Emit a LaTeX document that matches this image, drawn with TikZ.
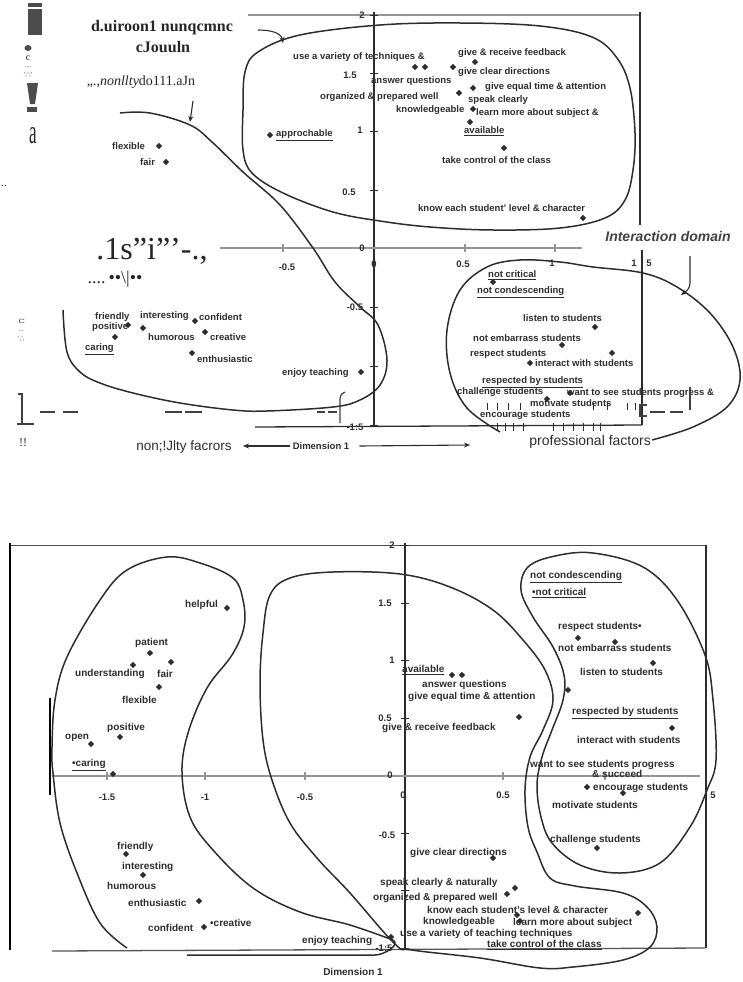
\documentclass[tikz,border=0pt]{standalone}
\usepackage{fontspec}
\setmainfont{Liberation Serif}
\setsansfont{Liberation Sans}
\usetikzlibrary{shapes.geometric,arrows.meta}
\definecolor{ink}{RGB}{45,45,45}
\definecolor{faint}{RGB}{150,150,150}
\newcommand{\lab}{\fontsize{9.5}{10}\selectfont\sffamily\bfseries}
\newcommand{\labb}{\fontsize{10}{11}\selectfont\sffamily\bfseries}

\begin{document}
\begin{tikzpicture}[x=1pt,y=-1pt,
        pnt/.style={diamond, fill=ink, inner sep=0pt, minimum size=6.5pt},
        word/.style={font=\lab, text=ink, inner sep=0pt, anchor=west},
        wordb/.style={word, font=\labb},
        num/.style={font=\lab, text=ink, inner sep=0pt},
        region/.style={draw=ink, line width=1.5pt},
        axis/.style={draw=ink, line width=1.3pt},
        faintaxis/.style={draw=faint, line width=1.1pt},
        pointer/.style={draw=ink, line width=1.1pt, -{Stealth[length=6pt,width=5pt]}},
        junk/.style={text=black!85, inner sep=0pt},
        junkdash/.style={draw=black!75, line width=2.6pt}
    ]
        \useasboundingbox (0,0) rectangle (742,982);

        % ---------- upper plot: axes
        \draw[faintaxis] (248,15) -- (640,15);
        \draw[axis] (374,12) -- (374,427);
        \foreach \y in {15,73,131,190,248,307,366,425}
            \draw[axis, line width=.8pt] (370,\y) -- (378,\y);
        \draw[axis] (640,12) -- (640,225);
        \draw[axis] (642,250) -- (642,425);
        \draw[faintaxis] (220,248) -- (582,248);
        \foreach \x in {283,465,555}
            \draw[faintaxis] (\x,244) -- (\x,252);
        \draw[axis] (255,427) -- (642,425);

        \node[num] (tY2) at (362,15) {2};
        \node[num] (tY15) at (350,75) {1.5};
        \node[num] (tY1) at (360,130) {1};
        \node[num] (tY05) at (349,192) {0.5};
        \node[num] (tY0) at (362,248) {0};
        \node[num] (tYm05) at (355,307) {-0.5};
        \node[num] (tYm15) at (355,427) {-1:5};
        \node[num] (tXm05) at (287,267) {-0.5};
        \node[num] (tX0) at (374,264) {0};
        \node[num] (tX05) at (463,264) {0.5};
        \node[num] (tX1) at (552,263) {1};
        \node[num] (tX15a) at (634,263) {1};
        \node[num] (tX15b) at (649,263) {5};

        % ---------- upper plot: regions
        \draw[region] plot[smooth cycle, tension=.6] coordinates {(380,25) (300,35) (258,52) (245,72)
            (243,110) (243,150) (252,173) (283,193) (333,212) (380,221) (430,227) (493,230) (560,228)
            (605,218) (625,200) (633,170) (635,133) (630,88) (617,58) (592,37) (540,26) (460,23)};
        \draw[region] plot[smooth, tension=.6] coordinates {(120,113) (150,113) (190,125) (212,142)
            (243,172) (280,205) (313,248) (335,282) (360,307) (378,325) (387,360) (380,385) (360,400)
            (333,407) (267,411) (233,410) (180,403) (133,393) (100,383) (80,372) (67,352) (63,310)};
        \draw[region] plot[smooth, tension=.6] coordinates {(500,432) (467,408) (450,373) (447,330)
            (460,290) (487,267) (520,260) (560,262) (593,267) (643,273) (677,287) (710,313) (733,347)
            (740,380) (727,407) (693,427) (652,440)};

        % ---------- upper plot: interaction items
        \node[pnt] (t1) at (415,67) {};
        \node[pnt] (t2) at (425,67) {};
        \node[pnt] (t3) at (475,62) {};
        \node[pnt] (t4) at (453,67) {};
        \node[pnt] (t5) at (459,93) {};
        \node[pnt] (t6) at (473,88) {};
        \node[pnt] (t7) at (473,109) {};
        \node[pnt] (t8) at (470,122) {};
        \node[pnt] (t9) at (504,148) {};
        \node[pnt] (t10) at (583,218) {};
        \node[word] (tVariety) at (293,57) {use a variety of techniques \&};
        \node[word] (tFeedback) at (458,53) {give \& receive feedback};
        \node[word] (tDirections) at (458,72) {give clear directions};
        \node[word] (tAnswer) at (371,81) {answer questions};
        \node[word] (tEqual) at (485,87) {give equal time \& attention};
        \node[word] (tOrganized) at (320,97) {organized \& prepared well};
        \node[word] (tSpeak) at (468,100) {speak clearly};
        \node[word] (tKnow) at (396,110) {knowledgeable};
        \node[word] (tLearn) at (476,113) {learn more about subject \&};
        \node[word] (tAvailable) at (464,131) {\underline{available}};
        \node[word] (tControl) at (442,160) {take control of the class};
        \node[word] (tLevel) at (418,208) {know each student' level \& character};

        % ---------- upper plot: personality items
        \node[pnt] (t11) at (270,135) {};
        \node[word] (tApproch) at (276,135) {\underline{approchable}};
        \node[word] (tFlexible) at (112,146) {flexible};
        \node[pnt] (t12) at (159,146) {};
        \node[word] (tFair) at (140,162) {fair};
        \node[pnt] (t13) at (166,162) {};
        \node[word] (tFriendly) at (95,317) {friendly};
        \node[word] (tInteresting) at (140,316) {interesting};
        \node[word] (tConfident) at (199,317) {confident};
        \node[pnt] (t14) at (195,321) {};
        \node[word] (tPositive) at (92,327) {positive};
        \node[pnt] (t15) at (128,325) {};
        \node[pnt] (t16) at (115,337) {};
        \node[pnt] (t17) at (143,328) {};
        \node[word] (tHumorous) at (148,337) {humorous};
        \node[pnt] (t18) at (205,332) {};
        \node[word] (tCreative) at (210,337) {creative};
        \node[word] (tCaring) at (85,349) {\underline{caring}};
        \node[pnt] (t19) at (192,353) {};
        \node[word] (tEnthus) at (197,359) {enthusiastic};
        \node[word] (tEnjoy) at (282,373) {enjoy teaching};
        \node[pnt] (t20) at (361,372) {};

        % ---------- upper plot: professional items
        \node[word] (tCritical) at (488,275) {\underline{not critical}};
        \node[pnt] (t21) at (493,282) {};
        \node[word] (tConde) at (477,292) {\underline{not condescending}};
        \node[word] (tListen) at (523,318) {listen to students};
        \node[pnt] (t22) at (595,327) {};
        \node[word] (tEmbarrass) at (473,338) {not embarrass students};
        \node[pnt] (t23) at (562,345) {};
        \node[word] (tRespect) at (470,354) {respect students};
        \node[pnt] (t24) at (612,353) {};
        \node[pnt] (t25) at (530,363) {};
        \node[word] (tInteract) at (535,363) {interact with students};
        \node[word] (tRespected) at (482,382) {\underline{respected by students}};
        \node[word] (tChallenge) at (457,392) {challenge students};
        \node[word] (tProgress) at (567,393) {want to see students progress \&};
        \node[pnt] (t26) at (547,399) {};
        \node[pnt] (t27) at (570,393) {};
        \node[word] (tMotivate) at (530,403) {motivate students};
        \node[word] (tEncourage) at (480,415) {encourage students};
        \foreach \x in {487,497,508,520,593,607,627,635}
            \draw[ink, line width=.8pt] (\x,403) -- (\x,410);
        \foreach \x in {497,505,513,523,553,563,573,583,593,600}
            \draw[ink, line width=.8pt] (\x,423) -- (\x,431);

        % ---------- upper plot: captions and arrows
        \node[font=\fontsize{14}{16}\selectfont\sffamily\bfseries\itshape, text=ink!90, inner sep=0pt]
            (interDom) at (668,236) {Interaction domain};
        \coordinate (interS) at (690,256);
        \coordinate (interE) at (681,295);
        \draw[pointer] (interS) -- (690,283) to[out=-90,in=35] (interE);
        \node[font=\fontsize{14}{16}\selectfont\sffamily, text=ink, inner sep=0pt, anchor=east]
            (profFac) at (651,442) {professional factors};
        \node[num] (dimA) at (321,446) {Dimension 1};
        \coordinate (dimL) at (243,446);
        \coordinate (dimR) at (470,445);
        \draw[pointer] ([xshift=-3pt]dimA.west) -- (dimL);
        \draw[pointer] ([xshift=10pt]dimA.east) -- (dimR);

        % ---------- scanned leftovers
        \fill[black!70] (28,3) rectangle (42,7);
        \fill[black!70] (28,9) rectangle (42,35);
        \fill[black!70] (28,48) ellipse (3.5 and 3);
        \node[junk, font=\fontsize{10}{10}\selectfont] (jC) at (28,58) {c};
        \node[junk, font=\fontsize{6}{6}\selectfont] (jC2) at (28,67) {....};
        \node[junk, font=\fontsize{6}{6}\selectfont] (jC3) at (28,75) {';';'};
        \fill[black!70] (27,83) -- (38,83) -- (35,104) -- (30,104) -- cycle;
        \fill[black!70] (27,107) rectangle (37,112);
        \node[junk, font=\fontsize{34}{34}\selectfont, xscale=.5] (jA) at (33,136) {a};
        \node[junk, font=\fontsize{12}{12}\selectfont] (jDots) at (4,186) {..};
        \node[junk, font=\fontsize{16}{18}\selectfont\bfseries] (dom1) at (162,28) {d.uiroon1 nunqcmnc};
        \node[junk, font=\fontsize{16}{18}\selectfont\bfseries] (dom2) at (163,47) {cJouuln};
        \node[junk, font=\fontsize{14}{16}\selectfont] (dom3) at (141,82) {,,.,\textit{nonllty}do111.aJn};
        \coordinate (domS) at (258,30);
        \coordinate (domE) at (283,43);
        \draw[pointer] (domS) to[out=0,in=100] (domE);
        \coordinate (nonS) at (193,101);
        \coordinate (nonE) at (190,122);
        \draw[pointer] (nonS) -- (nonE);
        \node[junk, font=\fontsize{32}{32}\selectfont] (jBig) at (152,251) {.1s"i"'-.,};
        \node[junk, font=\fontsize{18}{18}\selectfont] (jBull) at (115,279)
            {....\,\textbullet\textbullet\textbackslash\textbar\textbullet\textbullet};
        \node[junk, font=\fontsize{9}{9}\selectfont] (jC4) at (22,321) {c:};
        \node[junk, font=\fontsize{6}{6}\selectfont] (jC5) at (21,331) {...};
        \node[junk, font=\fontsize{6}{6}\selectfont] (jC6) at (21,339) {',',};
        \draw[black!75, line width=1.6pt] (18,394) -- (22,394) -- (22,424);
        \draw[black!75, line width=1.6pt] (17,424) -- (34,424);
        \foreach \a/\b in {40/55,63/78,165/182,185/202,317/325,328/337,650/665,670/683}
            \draw[junkdash] (\a,412) -- (\b,412);
        \draw[black!75, line width=1.2pt] (340,423) -- (340,398) to[out=90,in=200] (345,392);
        \draw[black!75, line width=1.2pt] (647,405) -- (640,405) -- (640,416) -- (647,416);
        \draw[black!75, line width=1.2pt] (690,387) -- (690,410);
        \node[junk, font=\fontsize{12}{12}\selectfont] (jBang) at (23,443) {!!};
        \node[junk, font=\fontsize{13.5}{15}\selectfont\sffamily, text=ink] (nonFac) at (184,447) {non;!Jlty facrors};

        % ---------- lower plot: axes
        \draw[draw=ink!85, line width=1pt] (10,545) -- (707,545);
        \draw[black, line width=2.3pt] (10,543) -- (10,950);
        \draw[black, line width=2.3pt] (50,698) -- (50,795);
        \draw[axis] (405,543) -- (405,950);
        \foreach \y in {545,603,660,718,775,833,890,948}
            \draw[axis, line width=.8pt] (401,\y) -- (409,\y);
        \draw[axis] (706,545) -- (706,948);
        \draw[faintaxis] (52,776) -- (700,776);
        \foreach \x in {107,205,305,503,605}
            \draw[faintaxis] (\x,772) -- (\x,780);
        \draw[axis, draw=ink!80] (52,951) -- (705,948);

        \node[num] (bY2) at (392,545) {2};
        \node[num] (bY15) at (385,603) {1.5};
        \node[num] (bY1) at (392,660) {1};
        \node[num] (bY05) at (385,718) {0.5};
        \node[num] (bY0) at (390,775) {0};
        \node[num] (bYm05) at (387,835) {-0.5};
        \node[num] (bYm15) at (384,948) {-1:5};
        \node[num] (bXm15) at (107,797) {-1.5};
        \node[num] (bXm1) at (205,797) {-1};
        \node[num] (bXm05) at (305,797) {-0.5};
        \node[num] (bX0) at (403,795) {0};
        \node[num] (bX05) at (503,795) {0.5};
        \node[num] (bX15) at (713,795) {5};
        \node[num, font=\labb] (dimB) at (353,972) {Dimension 1};

        % ---------- lower plot: regions
        \draw[region] plot[smooth, tension=.6] coordinates {(127,948) (100,923) (77,873) (60,823)
            (53,773) (52,747) (55,700) (67,657) (100,600) (127,570) (167,557) (200,563) (233,578)
            (243,600) (244,627) (232,655) (207,688) (188,733) (182,773) (190,817) (213,850) (253,888)
            (300,912) (350,925) (393,940)};
        \draw[region] (393,940) to[out=-30,in=0] (375,955) -- (187,955);
        \draw[region] plot[smooth cycle, tension=.6] coordinates {(395,944) (350,893) (317,858)
            (290,823) (272,780) (263,740) (260,683) (263,633) (270,595) (290,578) (333,572) (400,574)
            (450,587) (493,610) (523,640) (545,670) (553,700) (543,730) (530,757) (525,790) (528,827)
            (537,852) (550,878) (575,886) (623,893) (647,907) (657,927) (650,947) (623,960) (573,967)
            (540,968) (480,958) (412,950)};
        \draw[region] plot[smooth cycle, tension=.6] coordinates {(593,553) (555,556) (528,567)
            (521,590) (533,617) (553,647) (564,675) (563,700) (552,730) (542,757) (537,785) (541,817)
            (552,843) (580,865) (620,873) (660,863) (690,827) (707,790) (716,760) (713,700) (705,655)
            (677,600) (643,567)};

        % ---------- lower plot: left items
        \node[wordb] (bHelpful) at (185,605) {helpful};
        \node[pnt] (b1) at (227,608) {};
        \node[wordb] (bPatient) at (135,643) {patient};
        \node[pnt] (b2) at (150,653) {};
        \node[pnt] (b3) at (133,665) {};
        \node[pnt] (b4) at (171,662) {};
        \node[wordb] (bUnder) at (75,674) {understanding};
        \node[wordb] (bFair) at (157,674) {fair};
        \node[pnt] (b5) at (159,687) {};
        \node[wordb] (bFlexible) at (122,700) {flexible};
        \node[wordb] (bPositive) at (107,728) {positive};
        \node[pnt] (b6) at (120,737) {};
        \node[wordb] (bOpen) at (65,738) {open};
        \node[pnt] (b7) at (91,744) {};
        \node[wordb] (bCaring) at (72,765) {\underline{\textbullet caring}};
        \node[pnt] (b8) at (113,774) {};
        \node[wordb] (bFriendly) at (117,847) {friendly};
        \node[pnt] (b9) at (126,854) {};
        \node[wordb] (bInteresting) at (122,867) {interesting};
        \node[pnt] (b10) at (143,875) {};
        \node[wordb] (bHumorous) at (107,886) {humorous};
        \node[wordb] (bEnthus) at (128,903) {enthusiastic};
        \node[pnt] (b11) at (199,901) {};
        \node[wordb] (bConfident) at (148,928) {confident};
        \node[pnt] (b12) at (204,927) {};
        \node[wordb] (bCreative) at (210,923) {\textbullet creative};
        \node[wordb] (bEnjoy) at (302,941) {enjoy teaching};
        \node[pnt] (b13) at (391,937) {};

        % ---------- lower plot: middle items
        \node[wordb] (bAvailable) at (402,670) {\underline{available}};
        \node[pnt] (b14) at (452,675) {};
        \node[pnt] (b15) at (462,675) {};
        \node[wordb] (bAnswer) at (422,685) {answer questions};
        \node[wordb] (bEqual) at (408,697) {give equal time \& attention};
        \node[pnt] (b16) at (519,717) {};
        \node[wordb] (bFeedback) at (382,728) {give \& receive feedback};
        \node[wordb] (bDirections) at (410,853) {give clear directions};
        \node[pnt] (b17) at (493,858) {};
        \node[wordb] (bSpeak) at (380,883) {speak clearly \& naturally};
        \node[pnt] (b18) at (515,888) {};
        \node[wordb] (bOrganized) at (373,898) {organized \& prepared well};
        \node[pnt] (b19) at (507,894) {};
        \node[wordb] (bLevel) at (427,910) {know each student's level \& character};
        \node[pnt] (b20) at (638,913) {};
        \node[pnt] (b21) at (517,915) {};
        \node[pnt] (b22) at (520,921) {};
        \node[wordb] (bKnow) at (423,922) {knowledgeable};
        \node[wordb] (bLearn) at (513,923) {learn more about subject};
        \node[wordb] (bVariety) at (400,934) {use a variety of teaching techniques};
        \node[wordb] (bControl) at (487,945) {\underline{take control of the class}};

        % ---------- lower plot: right items
        \node[wordb] (bConde) at (530,577) {\underline{not condescending}};
        \node[wordb] (bCritical) at (532,593) {\underline{\textbullet not critical}};
        \node[wordb] (bRespect) at (558,627) {respect students\textbullet};
        \node[pnt] (b23) at (578,638) {};
        \node[wordb] (bEmbarrass) at (558,648) {not embarrass students};
        \node[pnt] (b24) at (615,642) {};
        \node[pnt] (b25) at (653,663) {};
        \node[wordb] (bListen) at (580,672) {listen to students};
        \node[pnt] (b26) at (568,690) {};
        \node[wordb] (bRespected) at (572,713) {\underline{respected by students}};
        \node[pnt] (b27) at (672,728) {};
        \node[wordb] (bInteract) at (577,740) {interact with students};
        \node[wordb] (bProgress) at (530,765) {want to see students progress};
        \node[wordb] (bSucceed) at (592,774) {\& succeed};
        \node[pnt] (b28) at (587,787) {};
        \node[wordb] (bEncourage) at (593,788) {encourage students};
        \node[pnt] (b29) at (623,793) {};
        \node[wordb] (bMotivate) at (552,805) {motivate students};
        \node[wordb] (bChallenge) at (550,840) {challenge students};
        \node[pnt] (b30) at (597,848) {};
    \end{tikzpicture}
\end{document}
